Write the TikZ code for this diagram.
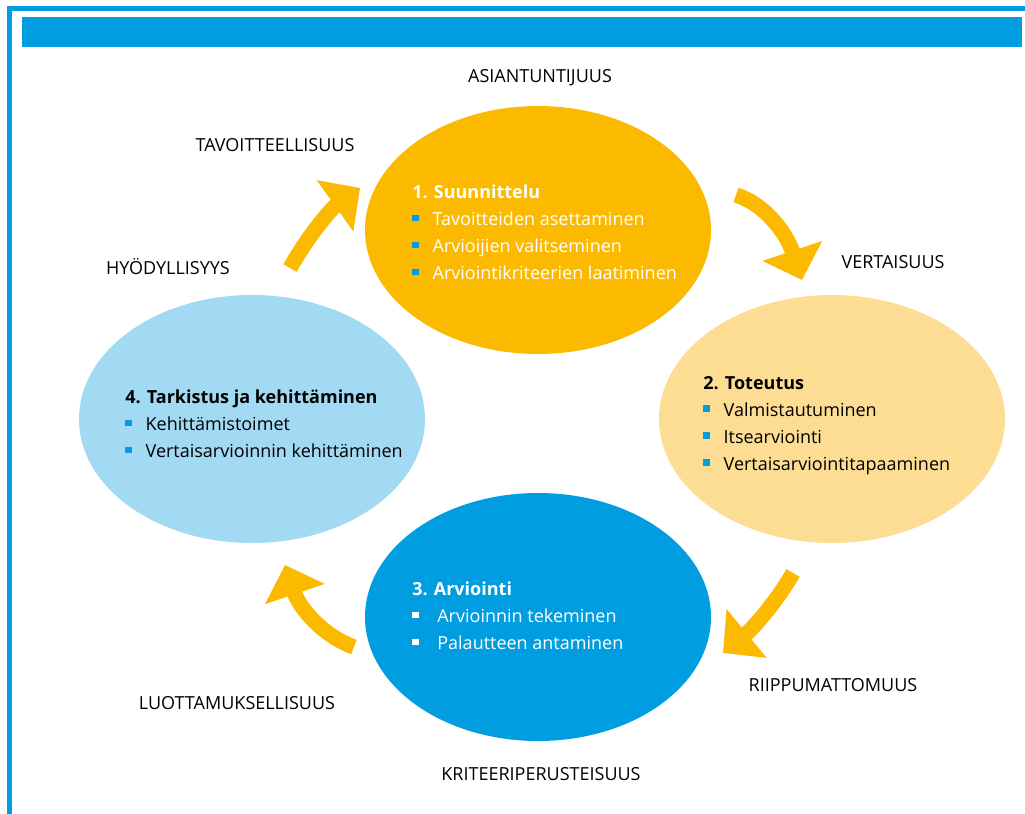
\documentclass[tikz,border=0pt]{standalone}
\usepackage{fontspec}
\setmainfont{Open Sans}
\usetikzlibrary{shapes.geometric,arrows.meta}

\definecolor{kelta}{HTML}{FBBA00}
\definecolor{vkelta}{HTML}{FDDC94}
\definecolor{sini}{HTML}{009EE0}
\definecolor{vsini}{HTML}{A2D9F3}

\tikzset{
  vaihe/.style={ellipse, minimum width=259.5pt, minimum height=186pt, inner sep=0pt},
  teksti/.style={align=left, anchor=north west, inner sep=0pt, font=\fontsize{13.5}{20.25}\selectfont},
  sana/.style={inner sep=0pt, font=\fontsize{13.5}{16}\selectfont},
  nuoli/.style={kelta, line width=11.5pt, -{Triangle[length=23pt, width=46pt]}}
}
\newcommand{\pallo}[1][sini]{\textcolor{#1}{\rule[0.25em]{4.8pt}{4.8pt}}\hspace{10.5pt}}

\begin{document}
\begin{tikzpicture}[x=0.75pt,y=-0.75pt]
  \useasboundingbox (0,0) rectangle (1025,814);

  % kehys
  \fill[sini] (7,6) rectangle (12,814);
  \fill[sini] (7,6) rectangle (1025,11);
  \fill[sini] (22,17) rectangle (1022,47);

  % vaiheet
  \node[vaihe, fill=kelta] (suunnittelu) at (538,230) {};
  \node[vaihe, fill=vkelta] (toteutus) at (832,419) {};
  \node[vaihe, fill=sini] (arviointi) at (538,617) {};
  \node[vaihe, fill=vsini] (tarkistus) at (252,419) {};

  \node[teksti, text=white] (suunnitteluteksti) at (412,185) {\textbf{1. Suunnittelu}\\
    \pallo Tavoitteiden asettaminen\\
    \pallo Arvioijien valitseminen\\
    \pallo Arviointikriteerien laatiminen};
  \node[teksti] (toteutusteksti) at (703,376) {\textbf{2. Toteutus}\\
    \pallo Valmistautuminen\\
    \pallo Itsearviointi\\
    \pallo Vertaisarviointitapaaminen};
  \node[teksti, text=white] (arviointiteksti) at (412,582) {\textbf{3. Arviointi}\\
    \pallo[white] Arvioinnin tekeminen\\
    \pallo[white] Palautteen antaminen};
  \node[teksti] (tarkistusteksti) at (125,390) {\textbf{4. Tarkistus ja kehittäminen}\\
    \pallo Kehittämistoimet\\
    \pallo Vertaisarvioinnin kehittäminen};

  % nuolet
  \coordinate (n1a) at (290,268);
  \coordinate (n1b) at (360,188);
  \coordinate (n2a) at (736,195);
  \coordinate (n2b) at (802,280);
  \coordinate (n3a) at (793,573);
  \coordinate (n3b) at (723,653);
  \coordinate (n4a) at (354,647);
  \coordinate (n4b) at (285,565);
  \draw[nuoli] (n1a) .. controls (308.7,234.7) and (332,208) .. (n1b);
  \draw[nuoli] (n2a) .. controls (764,203.7) and (786,232) .. (n2b);
  \draw[nuoli] (n3a) .. controls (777,601) and (753.7,627.7) .. (n3b);
  \draw[nuoli] (n4a) .. controls (322.7,635.7) and (299.7,608.3) .. (n4b);

  % periaatteet
  \node[sana] (asiantuntijuus) at (540,78) {ASIANTUNTIJUUS};
  \node[sana] (tavoitteellisuus) at (275,145) {TAVOITTEELLISUUS};
  \node[sana] (vertaisuus) at (893,262) {VERTAISUUS};
  \node[sana] (hyodyllisyys) at (168,267) {HYÖDYLLISYYS};
  \node[sana] (riippumattomuus) at (833,685) {RIIPPUMATTOMUUS};
  \node[sana] (luottamuksellisuus) at (237,703) {LUOTTAMUKSELLISUUS};
  \node[sana] (kriteeriperusteisuus) at (541,774) {KRITEERIPERUSTEISUUS};
\end{tikzpicture}
\end{document}
